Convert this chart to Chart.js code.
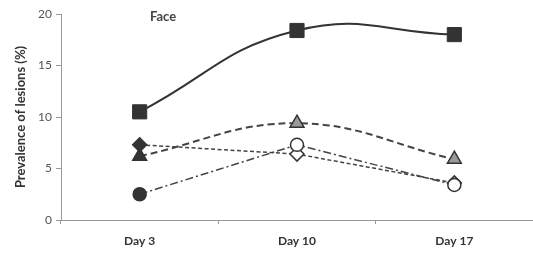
<!DOCTYPE html>
<html><head><meta charset="utf-8">
<script src="https://cdn.jsdelivr.net/npm/chart.js@4"></script>
<style>html,body{margin:0;padding:0;background:#fff;}canvas{display:block;}</style>
</head><body>
<canvas id="c" width="533" height="255"></canvas>
<script>
const categories = ['Day 3', 'Day 10', 'Day 17'];
const squareValues = [10.5, 18.4, 18.0];
const triangleValues = [6.2, 9.4, 5.9];
const diamondValues = [7.3, 6.4, 3.6];
const circleValues = [2.5, 7.3, 3.4];
const yTicks = [0, 5, 10, 15, 20];
const titleText = 'Face';
const yAxisTitle = 'Prevalence of lesions (%)';

const dark = '#333333';
const FONT = 'Lato, "Open Sans", sans-serif';

const facePlugin = {
  id: 'faceLabel',
  afterDraw(chart) {
    const ctx = chart.ctx;
    const x = chart.scales.x;
    ctx.save();
    ctx.font = 'bold 13px ' + FONT;
    ctx.fillStyle = '#444';
    ctx.textAlign = 'center';
    ctx.textBaseline = 'middle';
    ctx.fillText(titleText, x.left + 102, chart.chartArea.top + 3);
    ctx.restore();
  }
};

new Chart(document.getElementById('c'), {
  type: 'line',
  data: {
    labels: categories,
    datasets: [
      {
        label: 'Face',
        data: squareValues,
        borderColor: dark, borderWidth: 2, tension: 0.45,
        pointStyle: 'rect', pointRadius: 10, pointHoverRadius: 10,
        pointBackgroundColor: dark, pointBorderColor: dark, pointBorderWidth: 1
      },
      {
        label: 'Triangle',
        data: triangleValues,
        borderColor: '#444', borderWidth: 2, borderDash: [7, 4], tension: 0.4,
        pointStyle: 'triangle', pointRadius: 8, pointHoverRadius: 8,
        pointBackgroundColor: [dark, '#9a9a9a', '#9a9a9a'], pointBorderColor: dark, pointBorderWidth: 1.5
      },
      {
        label: 'Diamond',
        data: diamondValues,
        borderColor: '#444', borderWidth: 1.5, borderDash: [4, 2.5], tension: 0,
        pointStyle: 'rectRot', pointRadius: 7, pointHoverRadius: 7,
        pointBackgroundColor: [dark, '#fff', '#fff'], pointBorderColor: dark, pointBorderWidth: 1.5
      },
      {
        label: 'Circle',
        data: circleValues,
        borderColor: '#444', borderWidth: 1.5, borderDash: [8, 3, 2, 3], tension: 0,
        pointStyle: 'circle', pointRadius: 6.5, pointHoverRadius: 6.5,
        pointBackgroundColor: [dark, '#fff', '#fff'], pointBorderColor: dark, pointBorderWidth: 1.5
      }
    ].reverse()
  },
  options: {
    responsive: false,
    animation: false,
    layout: { autoPadding: false, padding: { top: 14, right: 0, left: 0, bottom: 0 } },
    plugins: { legend: { display: false }, tooltip: { enabled: false } },
    scales: {
      x: {
        offset: true,
        afterFit(s) { s.height = 35; s.paddingRight = 0; s.paddingLeft = 0; },
        grid: { offset: true, drawOnChartArea: false, drawTicks: true, tickLength: 4, color: '#999' },
        border: { display: true, color: '#999', width: 1 },
        ticks: { color: '#333', padding: 10, font: { family: FONT, size: 12, weight: 'bold' } }
      },
      y: {
        min: 0, max: 20,
        afterFit(s) { s.width = 61; },
        afterBuildTicks(s) { s.ticks = yTicks.map(v => ({ value: v })); },
        grid: { drawOnChartArea: false, drawTicks: true, tickLength: 5, color: '#999' },
        border: { display: true, color: '#999', width: 1 },
        ticks: { color: '#555', padding: 4, font: { family: FONT, size: 12 } },
        title: { display: true, text: yAxisTitle, color: '#333', padding: { top: 13, bottom: 0 }, font: { family: FONT, size: 13, weight: 'bold' } }
      }
    }
  },
  plugins: [facePlugin]
});
</script>
</body></html>
